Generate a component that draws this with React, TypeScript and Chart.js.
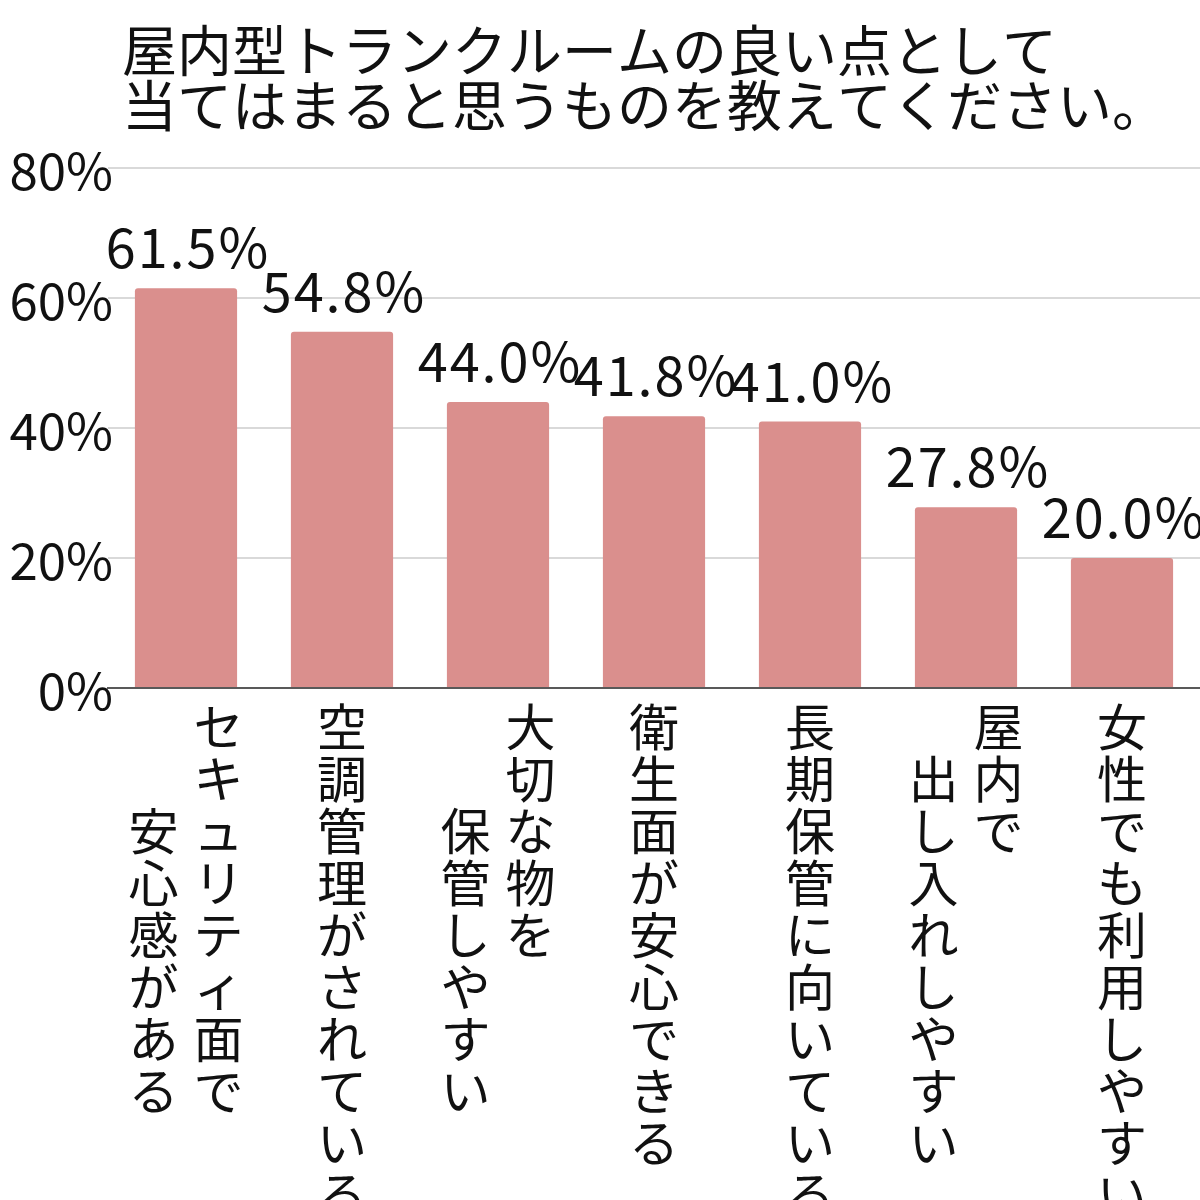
import { useEffect, useRef } from "react";
import Chart from "chart.js/auto";

const titleLines = ["屋内型トランクルームの良い点として", "当てはまると思うものを教えてください。"];

// each category is a list of vertical columns, read right to left
const categoryColumns = [
  ["セキュリティ面で", "　　安心感がある"],
  ["空調管理がされている"],
  ["大切な物を", "　　保管しやすい"],
  ["衛生面が安心できる"],
  ["長期保管に向いている"],
  ["屋内で", "　出し入れしやすい"],
  ["女性でも利用しやすい"],
];

const shares = [61.5, 54.8, 44.0, 41.8, 41.0, 27.8, 20.0];

const yTicks = [0, 20, 40, 60, 80];

const FONT = '"Noto Sans CJK JP", "Noto Sans", sans-serif';

const titlePlugin = {
  id: "leftTitle",
  afterDraw(chart: any) {
    const { ctx } = chart;
    ctx.save();
    ctx.fillStyle = "#111";
    ctx.font = `55px ${FONT}`;
    ctx.textAlign = "left";
    ctx.textBaseline = "middle";
    titleLines.forEach((line, i) => {
      ctx.fillText(line, 122, 50 + i * 55);
    });
    ctx.restore();
  },
};

// y tick labels drawn from the scale so they are not clipped to the axis box
const yLabels = {
  id: "yLabels",
  afterDraw(chart: any) {
    const { ctx } = chart;
    const yScale = chart.scales.y;
    ctx.save();
    ctx.fillStyle = "#111";
    ctx.font = `51px ${FONT}`;
    ctx.textAlign = "right";
    ctx.textBaseline = "middle";
    yTicks.forEach((v) => {
      ctx.fillText(v + "%", 113, yScale.getPixelForValue(v) + 3);
    });
    ctx.restore();
  },
};

const valueLabels = {
  id: "valueLabels",
  afterDatasetsDraw(chart: any) {
    const { ctx } = chart;
    const meta = chart.getDatasetMeta(0);
    ctx.save();
    ctx.fillStyle = "#111";
    ctx.font = `54px ${FONT}`;
    ctx.letterSpacing = "2px";
    ctx.textAlign = "center";
    ctx.textBaseline = "alphabetic";
    meta.data.forEach((bar: any, i: number) => {
      ctx.fillText(shares[i].toFixed(1) + "%", bar.x + 2, bar.y - 20);
    });
    ctx.restore();
  },
};

const verticalLabels = {
  id: "verticalLabels",
  afterDraw(chart: any) {
    const { ctx, chartArea } = chart;
    const xScale = chart.scales.x;
    const pitch = 52;
    const colGap = 65;
    ctx.save();
    ctx.fillStyle = "#111";
    ctx.font = `50px ${FONT}`;
    ctx.textAlign = "center";
    ctx.textBaseline = "middle";
    categoryColumns.forEach((cols, i) => {
      const cx = xScale.getPixelForValue(i);
      cols.forEach((col, j) => {
        const x = cx + ((cols.length - 1) / 2) * colGap - j * colGap;
        Array.from(col).forEach((ch, k) => {
          ctx.fillText(ch, x, chartArea.bottom + 39 + k * pitch);
        });
      });
    });
    ctx.restore();
  },
};

export default function App() {
  const canvasRef = useRef<HTMLCanvasElement | null>(null);
  const chartRef = useRef<Chart | null>(null);

  useEffect(() => {
    document.body.style.margin = "0";
    if (!canvasRef.current) return;

    if (chartRef.current) {
      chartRef.current.destroy();
      chartRef.current = null;
    }

    chartRef.current = new Chart(canvasRef.current, {
      type: "bar",
      data: {
        labels: categoryColumns.map((c) => c.join("").replace(/　/g, "")),
        datasets: [
          {
            data: shares,
            backgroundColor: "#DA8F8D",
            borderRadius: 3,
            borderSkipped: "bottom",
            barPercentage: 0.655,
            categoryPercentage: 1,
          },
        ],
      },
      options: {
        animation: false,
        responsive: true,
        maintainAspectRatio: false,
        layout: { padding: { top: 168, bottom: 504, left: 0, right: 0 } },
        plugins: {
          legend: { display: false },
          title: { display: false },
          tooltip: { enabled: false },
        },
        scales: {
          x: {
            grid: { display: false },
            border: { display: true, color: "#595959", width: 2 },
            ticks: { display: false },
          },
          y: {
            min: yTicks[0],
            max: yTicks[yTicks.length - 1],
            afterBuildTicks: (scale: any) => {
              scale.ticks = yTicks.map((v) => ({ value: v }));
            },
            afterFit: (scale: any) => {
              scale.width = 108;
            },
            border: { display: false },
            grid: {
              drawTicks: false,
              lineWidth: 2,
              color: (c: any) => (c.tick && c.tick.value === 0 ? "#595959" : "#D9D9D9"),
            },
            ticks: { display: false },
          },
        },
      },
      plugins: [titlePlugin, yLabels, valueLabels, verticalLabels],
    });

    return () => {
      if (chartRef.current) {
        chartRef.current.destroy();
        chartRef.current = null;
      }
    };
  }, []);

  return (
    <div style={{ width: 1200, height: 1200, overflow: "hidden", background: "#fff" }}>
      <canvas ref={canvasRef} />
    </div>
  );
}
